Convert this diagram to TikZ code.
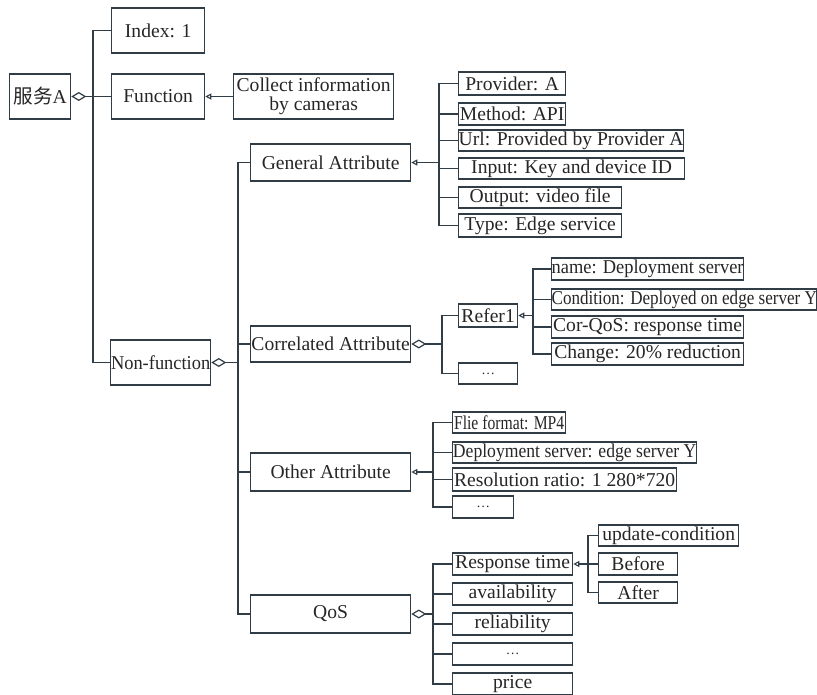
\documentclass[tikz,border=0pt]{standalone}
\usepackage{fontspec}
\setmainfont{Liberation Serif}
\newfontfamily\cjk{Noto Sans CJK SC}
\usetikzlibrary{arrows.meta}
\definecolor{ln}{RGB}{48,60,70}
\begin{document}
\begin{tikzpicture}[x=1pt,y=-1pt,
  bx/.style={draw=ln, line width=1.3pt, anchor=west, inner sep=0pt, text=black!85,
    font=\fontsize{19.6}{19}\selectfont},
  conn/.style={draw=ln, line width=1.3pt},
  diaS/.style={conn, {Diamond[open,length=15pt,width=9pt,line width=1.2pt]}-},
  triS/.style={conn, {Triangle[open,length=6pt,width=6pt,line width=1.1pt]}-}]
\useasboundingbox (0,0) rectangle (817,694);
% level 0/1
\node[bx, minimum width=61, minimum height=45] (svc) at (9,96.5) {{\cjk 服务}A};
\node[bx, minimum width=93, minimum height=45] (idx) at (111,30.5) {Index: 1};
\node[bx, minimum width=93, minimum height=45] (func) at (111,96.5) {Function};
\node[bx, minimum width=160, minimum height=45, align=center] (coll) at (233,96.5) {Collect information\\by cameras};
\node[bx, minimum width=100, minimum height=45] (nonf) at (110,362.5) {\scalebox{0.94}[1]{Non-function}};
% level 2
\node[bx, minimum width=160, minimum height=37] (ga) at (250,162.5) {General Attribute};
\node[bx, minimum width=160, minimum height=36] (ca) at (250,344) {Correlated Attribute};
\node[bx, minimum width=160, minimum height=38] (oa) at (250,472) {Other Attribute};
\node[bx, minimum width=160, minimum height=38] (qos) at (250,614) {QoS};
% general attribute children
\node[bx, minimum width=107, minimum height=23] (prov) at (458,83.5) {Provider: A};
\node[bx, minimum width=107, minimum height=22] (meth) at (458,114) {Method: API};
\node[bx, minimum width=225, minimum height=21] (url) at (458,140.5) {Url: Provided by Provider A};
\node[bx, minimum width=226, minimum height=21] (inp) at (458,168.5) {Input: Key and device ID};
\node[bx, minimum width=163, minimum height=21] (outp) at (458,197.5) {Output: video file};
\node[bx, minimum width=163, minimum height=23] (typ) at (458,225.5) {Type: Edge service};
% correlated attribute children
\node[bx, minimum width=59, minimum height=23] (ref) at (458,315.5) {Refer1};
\node[bx, minimum width=59, minimum height=21] (dotsa) at (458,373.5) {\scalebox{0.7}{\dots}};
\node[bx, minimum width=192, minimum height=22] (nam) at (551,269) {\scalebox{0.94}[1]{name: Deployment server}};
\node[bx, minimum width=265, minimum height=21] (cond) at (551,299.5) {\scalebox{0.87}[1]{Condition: Deployed on edge server Y}};
\node[bx, minimum width=192, minimum height=22] (corq) at (551,327) {Cor-QoS: response time};
\node[bx, minimum width=192, minimum height=22] (chg) at (551,354) {Change: 20\% reduction};
% other attribute children
\node[bx, minimum width=113, minimum height=21] (flie) at (452,422.5) {\scalebox{0.8}[1]{Flie format: MP4}};
\node[bx, minimum width=244, minimum height=21] (dep) at (452,452.5) {\scalebox{0.9}[1]{Deployment server: edge server Y}};
\node[bx, minimum width=224, minimum height=23] (res) at (452,479.5) {Resolution ratio: 1 280*720};
\node[bx, minimum width=61, minimum height=22] (dotsb) at (452,507) {\scalebox{0.7}{\dots}};
% QoS children
\node[bx, minimum width=120, minimum height=22] (rt) at (452,564) {Response time};
\node[bx, minimum width=120, minimum height=22] (avail) at (452,594) {availability};
\node[bx, minimum width=120, minimum height=22] (rel) at (452,624) {reliability};
\node[bx, minimum width=120, minimum height=22] (dotsc) at (452,654) {\scalebox{0.7}{\dots}};
\node[bx, minimum width=120, minimum height=22] (price) at (452,684) {price};
% response time children
\node[bx, minimum width=140, minimum height=21] (upd) at (598,535.5) {update-condition};
\node[bx, minimum width=79, minimum height=22] (bef) at (598,564) {Before};
\node[bx, minimum width=79, minimum height=21] (aft) at (598,592.5) {After};
% connectors level 1
\draw[conn] (idx.west) -- ++(-18,0) |- (nonf.west);
\draw[diaS] (svc.east) -- (func.west);
\draw[triS] (func.east) -- (coll.west);
% non-function
\draw[diaS] (nonf.east) -- ++(28,0);
\draw[conn] (ga.west) -- ++(-12,0) |- (qos.west);
\draw[conn] (ca.west) -- ++(-12,0);
\draw[conn] (oa.west) -- ++(-12,0);
% general attribute
\draw[triS] (ga.east) -- ++(29,0);
\draw[conn] (prov.west) -- ++(-19,0) |- (typ.west);
\foreach \n in {meth,url,inp,outp} \draw[conn] (\n.west) -- ++(-19,0);
% correlated attribute
\draw[diaS] (ca.east) -- ++(32,0);
\draw[conn] (ref.west) -- ++(-16,0) |- (dotsa.west);
\draw[triS] (ref.east) -- ++(16,0);
\draw[conn] (nam.west) -- ++(-18,0) |- (chg.west);
\foreach \n in {cond,corq} \draw[conn] (\n.west) -- ++(-18,0);
% other attribute
\draw[triS] (oa.east) -- ++(23,0);
\draw[conn] (flie.west) -- ++(-19,0) |- (dotsb.west);
\foreach \n in {dep,res} \draw[conn] (\n.west) -- ++(-19,0);
% QoS
\draw[diaS] (qos.east) -- ++(23,0);
\draw[conn] (rt.west) -- ++(-19,0) |- (price.west);
\foreach \n in {avail,rel,dotsc} \draw[conn] (\n.west) -- ++(-19,0);
% response time
\draw[triS] (rt.east) -- ++(16,0);
\draw[conn] (upd.west) -- ++(-10,0) |- (aft.west);
\draw[conn] (bef.west) -- ++(-10,0);
\end{tikzpicture}
\end{document}
